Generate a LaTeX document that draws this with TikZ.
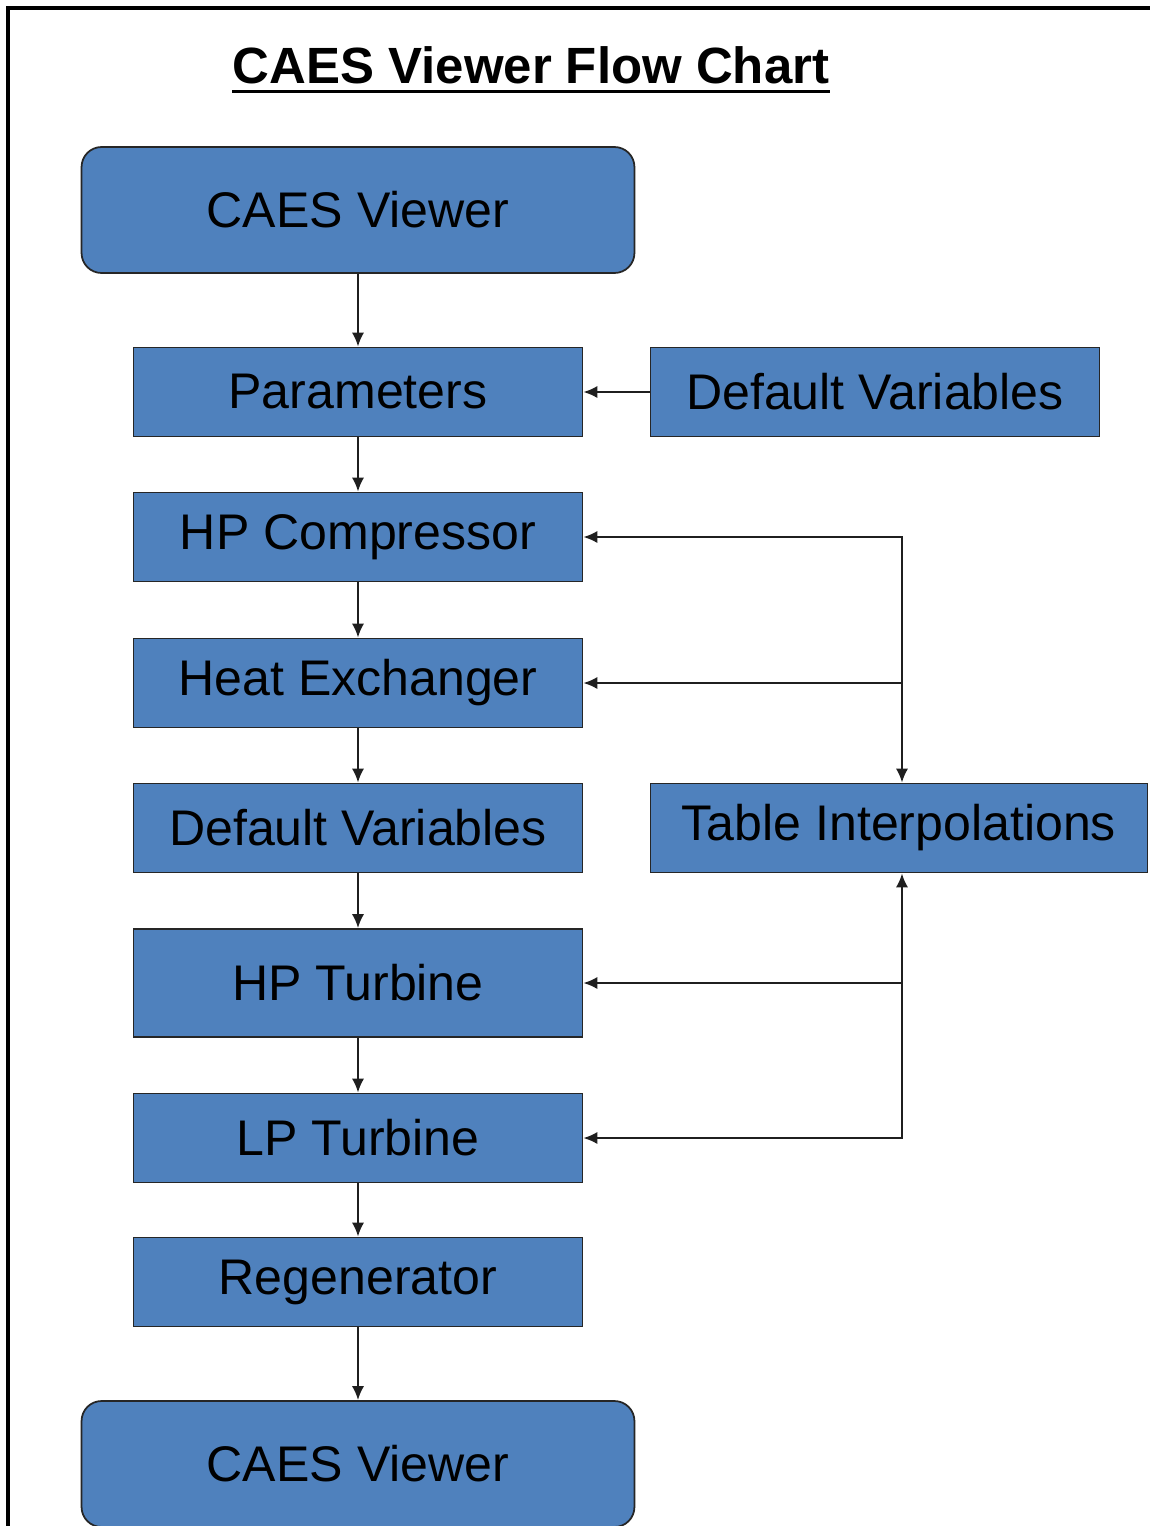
\documentclass[tikz,border=0pt]{standalone}
\usepackage{fontspec}
\setmainfont{Liberation Sans}
\usetikzlibrary{arrows.meta}
\definecolor{boxblue}{HTML}{4F81BD}

\begin{document}
\begin{tikzpicture}[x=0.02cm,y=-0.02cm,
    >={Latex[length=8pt,width=7pt]},
    link/.style={line width=1.2pt, draw=black!88},
    block/.style={draw=black!85, line width=1pt, fill=boxblue, inner sep=0pt,
      minimum width=8.98cm, minimum height=1.78cm,
      font=\fontsize{28.5}{32}\selectfont},
    term/.style={block, rounded corners=0.4cm, minimum width=11.06cm, minimum height=2.52cm}]
          \useasboundingbox (0,0) rectangle (1150,1526);
          \draw[line width=2pt] (8,1526) -- (8,8) -- (1150,8);
          \node[inner sep=0pt, anchor=base, font=\fontsize{29}{32}\selectfont\bfseries]
                (title) at (531,83) {CAES Viewer Flow Chart};
          \draw[line width=1.9pt] ([yshift=-5pt]title.base west) -- ([yshift=-5pt]title.base east);
          % main column
          \node[term] (top) at (358,210) {CAES Viewer};
          \node[block] (par) at (358,392) {Parameters};
          \node[block] (dvright) at (875,392) {Default Variables};
          \node[block] (hpc) at (358,537) {HP Compressor};
          \node[block] (hx) at (358,683) {Heat Exchanger};
          \node[block] (dvleft) at (358,828) {Default Variables};
          \node[block, minimum width=9.94cm] (tab) at (899,828) {Table Interpolations};
          \node[block, minimum height=2.16cm] (hpt) at (358,983) {HP Turbine};
          \node[block] (lpt) at (358,1138) {LP Turbine};
          \node[block] (regen) at (358,1282) {Regenerator};
          \node[term] (bottom) at (358,1464) {CAES Viewer};
          \draw[link,->] (top) -- (par);
          \draw[link,->] (dvright) -- (par);
          \draw[link,->] (par) -- (hpc);
          \draw[link,->] (hpc) -- (hx);
          \draw[link,->] (hx) -- (dvleft);
          \draw[link,->] (dvleft) -- (hpt);
          \draw[link,->] (hpt) -- (lpt);
          \draw[link,->] (lpt) -- (regen);
          \draw[link,->] (regen) -- (bottom);
          % table lookups
          \draw[link,<->] (hpc.east) -| (902,0 |- tab.north);
          \draw[link,->] (902,0 |- hx.east) -- (hx.east);
          \draw[link,<->] (lpt.east) -| (902,0 |- tab.south);
          \draw[link,->] (902,0 |- hpt.east) -- (hpt.east);
        \end{tikzpicture}
\end{document}
